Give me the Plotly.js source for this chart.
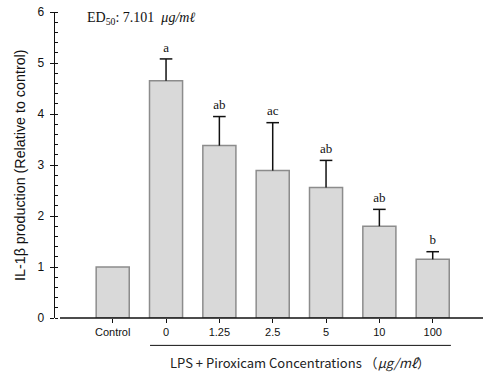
<!DOCTYPE html>
<html>
<head>
<meta charset="utf-8">
<script src="https://cdn.plot.ly/plotly-3.0.1.min.js"></script>
<style>
  html, body { margin: 0; padding: 0; background: #ffffff; }
  #chart { width: 483px; height: 373px; }
</style>
</head>
<body>
<div id="chart"></div>
<script>
// IL-1β production relative to control, LPS + piroxicam dose series
const categories = ["Control", "0", "1.25", "2.5", "5", "10", "100"];
const production = [1.00, 4.65, 3.38, 2.89, 2.56, 1.80, 1.15];
const errorPlus = [null, 0.43, 0.57, 0.94, 0.53, 0.33, 0.15];
const groupLetters = ["", "a", "ab", "ac", "ab", "ab", "b"];
const yTicks = [0, 1, 2, 3, 4, 5, 6];

// top of each upper error bar (no bar for the control group)
const errorTop = production.map((v, i) => errorPlus[i] == null ? null : v + errorPlus[i]);

const bars = {
  type: "bar",
  x: categories,
  y: production,
  width: 0.62,
  marker: { color: "#d9d9d9", line: { color: "#8c8c8c", width: 1.5 } },
  hoverinfo: "skip"
};

// upper error whisker: stem from the bar top, cap drawn as a line marker
const whiskers = {
  type: "scatter",
  mode: "markers",
  x: categories,
  y: errorTop,
  error_y: {
    type: "data",
    symmetric: false,
    array: errorPlus.map(() => 0),
    arrayminus: errorPlus.map(e => e == null ? 0 : e),
    color: "#111111",
    thickness: 1.5,
    width: 0
  },
  marker: { symbol: "line-ew", size: 9, color: "#111111", line: { color: "#111111", width: 1.5 } },
  cliponaxis: false,
  hoverinfo: "skip"
};

// significance letters above each whisker (hidden marker sets the gap)
const letters = {
  type: "scatter",
  mode: "markers+text",
  x: categories,
  y: errorTop,
  marker: { size: 5, opacity: 0 },
  text: groupLetters,
  textposition: "top center",
  textfont: { family: "Liberation Serif, Times New Roman, serif", size: 13, color: "#111111" },
  cliponaxis: false,
  hoverinfo: "skip"
};

const layout = {
  width: 483,
  height: 373,
  margin: { l: 55, r: 0, t: 12, b: 55 },
  paper_bgcolor: "#ffffff",
  plot_bgcolor: "#ffffff",
  showlegend: false,
  xaxis: {
    type: "category",
    range: [-1.082, 6.943],
    showline: false,
    showgrid: false,
    zeroline: false,
    ticks: "outside",
    ticklen: 4,
    tickwidth: 1,
    tickcolor: "#111111",
    tickfont: { family: "Liberation Sans, Arial, sans-serif", size: 11, color: "#111111" }
  },
  yaxis: {
    range: [0, 6],
    tickvals: yTicks,
    showline: true,
    linecolor: "#111111",
    linewidth: 1.5,
    showgrid: false,
    zeroline: false,
    ticks: "outside",
    ticklen: 4,
    tickwidth: 1,
    tickcolor: "#111111",
    ticklabelstandoff: 3,
    tickfont: { family: "Liberation Sans, Arial, sans-serif", size: 12, color: "#111111" },
    minor: { ticks: "inside", dtick: 0.2, ticklen: 3, tickwidth: 1, tickcolor: "#111111" }
  },
  shapes: [
    // x axis baseline, starting just right of the y axis
    { type: "line", xref: "paper", yref: "paper", x0: 0.0117, x1: 1, y0: 0, y1: 0,
      line: { color: "#111111", width: 1.5 } },
    // bracket under the LPS + piroxicam groups
    { type: "line", xref: "paper", yref: "paper", x0: 0.222, x1: 0.925, y0: -0.0895, y1: -0.0895,
      line: { color: "#111111", width: 1 } }
  ],
  annotations: [
    {
      xref: "paper", yref: "paper", x: 0.07, y: 0.98,
      xanchor: "left", yanchor: "middle", showarrow: false,
      text: "ED<sub>50</sub>: 7.101  <i>μg/mℓ</i>",
      font: { family: "Liberation Serif, Times New Roman, serif", size: 14, color: "#111111" }
    },
    {
      xref: "paper", yref: "paper", x: -0.0818, y: 0.5,
      xanchor: "center", yanchor: "middle", showarrow: false, textangle: -90,
      text: "IL-1β production (Relative to control)",
      font: { family: "Liberation Sans, Arial, sans-serif", size: 14.3, color: "#111111" }
    },
    {
      xref: "paper", yref: "paper", x: 0.5735, y: -0.146,
      xanchor: "center", yanchor: "middle", showarrow: false,
      text: "LPS + Piroxicam Concentrations （<i>μg/mℓ</i>）",
      font: { family: "Noto Sans CJK KR, Noto Sans, sans-serif", size: 13, color: "#222222" }
    }
  ]
};

Plotly.newPlot("chart", [bars, whiskers, letters], layout, { displayModeBar: false, staticPlot: true });
</script>
</body>
</html>
